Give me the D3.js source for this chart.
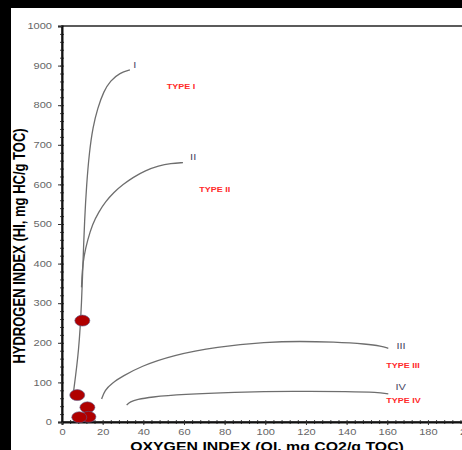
<!DOCTYPE html>
<html>
<head>
<meta charset="utf-8">
<script src="https://cdn.jsdelivr.net/npm/d3@7"></script>
<style>
  body { margin: 0; background: #000; }
  svg { display: block; }
</style>
</head>
<body>
<div id="chart"></div>
<script>
// Kerogen type curves (OI, HI)
const typeI = [[5.4, 66], [8.4, 182], [9.7, 308], [10.3, 400], [11.1, 510], [12.1, 600], [13.4, 680],
  [15.2, 745], [17.5, 792], [20.5, 835], [23.8, 862], [28.5, 882], [33.4, 889]];
const typeII = [[9.6, 340], [9.9, 380], [10.8, 420], [12.6, 460], [15, 500], [18, 530], [21.5, 557],
  [25.5, 580], [30, 600], [35, 618], [41, 635], [47.5, 647], [53.5, 653], [59.5, 655]];
const typeIII = [[19.5, 58], [21, 80], [24.5, 98], [30, 116], [38.4, 140], [54.7, 169], [76, 190],
  [100.7, 202], [117, 204], [133.5, 202], [150, 197], [157, 192], [160.5, 186]];
const typeIV = [[31.8, 43], [33.5, 51], [37, 57], [43.3, 63], [59.7, 70], [84, 75], [113.8, 78],
  [141.7, 77], [155, 75], [160.5, 71]];

// samples
const sampleOI = [10, 7.5, 12.5, 13, 8.5];
const sampleHI = [256, 68, 37, 13, 12];

// curve end labels and type labels
const romanLabels = [
  { text: "I", oi: 35, hi: 893 },
  { text: "II", oi: 63, hi: 662 },
  { text: "III", oi: 164.5, hi: 184 },
  { text: "IV", oi: 164, hi: 80 }
];
const typeLabels = [
  { text: "TYPE I", oi: 51.5, hi: 840 },
  { text: "TYPE II", oi: 67.5, hi: 581 },
  { text: "TYPE III", oi: 159.5, hi: 137 },
  { text: "TYPE IV", oi: 159.5, hi: 49 }
];

const xMajor = d3.range(0, 201, 20);
const yMajor = d3.range(0, 1001, 100);

const width = 462, height = 450;
const sx = 1.3; // the source picture is stretched sideways

const svg = d3.select("#chart").append("svg")
    .attr("width", width)
    .attr("height", height);

svg.append("rect").attr("width", width).attr("height", height).attr("fill", "#000");
svg.append("rect").attr("x", 11).attr("y", 8)
    .attr("width", width - 11).attr("height", height - 8).attr("fill", "#fff");

const x = d3.scaleLinear().domain([0, 200]).range([62, 468.6]);
const y = d3.scaleLinear().domain([0, 1000]).range([422, 26]);

// frame
svg.append("rect")
    .attr("x", x(0)).attr("y", y(1000))
    .attr("width", x(200) - x(0)).attr("height", y(0) - y(1000))
    .attr("fill", "none").attr("stroke", "#333").attr("stroke-width", 1.6);

// minor ticks
svg.append("g")
    .attr("transform", `translate(${x(0)},0)`)
    .call(d3.axisLeft(y).tickValues(d3.range(0, 1001, 20)).tickSize(2).tickFormat(""))
    .call(g => g.select(".domain").remove())
    .selectAll("line").attr("stroke", "#444").attr("x2", 2).attr("x1", -2);
svg.append("g")
    .attr("transform", `translate(0,${y(0)})`)
    .call(d3.axisBottom(x).tickValues(d3.range(0, 201, 4)).tickSize(2).tickFormat(""))
    .call(g => g.select(".domain").remove())
    .selectAll("line").attr("stroke", "#444").attr("y1", -2).attr("y2", 2);

// major axes
const yAxis = svg.append("g")
    .attr("transform", `translate(${x(0)},0)`)
    .call(d3.axisLeft(y).tickValues(yMajor).tickSize(4).tickFormat(d3.format("d")));
const xAxis = svg.append("g")
    .attr("transform", `translate(0,${y(0)})`)
    .call(d3.axisBottom(x).tickValues(xMajor).tickSize(3).tickFormat(d3.format("d")));

[yAxis, xAxis].forEach(a => {
  a.select(".domain").attr("stroke", "#111").attr("stroke-width", 2);
  a.selectAll(".tick line").attr("stroke", "#333");
  a.selectAll("text")
      .attr("font-family", "Liberation Sans, Arial, sans-serif")
      .attr("font-size", 8.5)
      .attr("fill", "#666");
});
yAxis.selectAll("text")
    .attr("x", -10 / sx)
    .attr("transform", `scale(${sx},1)`);
xAxis.selectAll("text")
    .attr("y", 7)
    .attr("transform", `scale(${sx},1)`)
    .attr("x", 0);

// axis titles
svg.append("text")
    .attr("transform", `translate(267,451) scale(1.22,1)`)
    .attr("text-anchor", "middle")
    .attr("font-family", "Liberation Sans, Arial, sans-serif")
    .attr("font-weight", "bold")
    .attr("font-size", 13)
    .attr("fill", "#000")
    .text("OXYGEN INDEX (OI, mg CO2/g TOC)");

svg.append("text")
    .attr("transform", `translate(25,246) scale(1.22,1) rotate(-90)`)
    .attr("text-anchor", "middle")
    .attr("font-family", "Liberation Sans, Arial, sans-serif")
    .attr("font-weight", "bold")
    .attr("font-size", 13)
    .attr("fill", "#000")
    .text("HYDROGEN INDEX (HI, mg HC/g TOC)");

// curves
const line = d3.line()
    .x(d => x(d[0]))
    .y(d => y(d[1]))
    .curve(d3.curveBasis);

svg.append("g")
  .selectAll("path")
  .data([typeI, typeII, typeIII, typeIV])
  .join("path")
    .attr("d", line)
    .attr("fill", "none")
    .attr("stroke", "#6e6e6e")
    .attr("stroke-width", 1.3);

// numeral labels
svg.append("g")
  .selectAll("text")
  .data(romanLabels)
  .join("text")
    .attr("transform", d => `translate(${x(d.oi)},${y(d.hi)}) scale(${sx},1)`)
    .attr("font-family", "Liberation Sans, Arial, sans-serif")
    .attr("font-size", 8.5)
    .attr("fill", "#4a4a66")
    .text(d => d.text);

svg.append("g")
  .selectAll("text")
  .data(typeLabels)
  .join("text")
    .attr("transform", d => `translate(${x(d.oi)},${y(d.hi)}) scale(1.2,1)`)
    .attr("font-family", "Liberation Sans, Arial, sans-serif")
    .attr("font-weight", "bold")
    .attr("font-size", 7.5)
    .attr("fill", "#ff2a2a")
    .text(d => d.text);

// sample points
svg.append("g")
  .selectAll("ellipse")
  .data(sampleOI.map((oi, i) => ({ oi: oi, hi: sampleHI[i] })))
  .join("ellipse")
    .attr("cx", d => x(d.oi))
    .attr("cy", d => y(d.hi))
    .attr("rx", 7.5)
    .attr("ry", 5.5)
    .attr("fill", "#b00000")
    .attr("stroke", "#5a5a8a")
    .attr("stroke-width", 0.6);
</script>
</body>
</html>
